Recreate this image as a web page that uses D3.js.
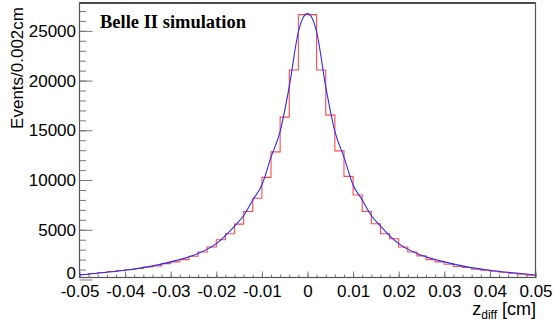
<!doctype html>
<html lang="en">
<head>
  <meta charset="utf-8">
  <title>z_diff distribution</title>
  <style>
    body { margin: 0; background: #fff; }
    text { font-family: "Liberation Sans", Arial, sans-serif; }
  </style>
</head>
<body>
  <script src="https://cdn.jsdelivr.net/npm/d3@7"></script>
  <script>
    // histogram: 50 bins of 0.002 cm from -0.05 to 0.05
    var binEdges = d3.range(51).map(function(i) { return +(-0.05 + i * 0.002).toFixed(3) })
    var binCounts = [
      500, 600, 700, 800, 900, 1000, 1100, 1250, 1370, 1600,
      1770, 2000, 2330, 2770, 3270, 4000, 4600, 5570, 6830, 8170,
      10270, 12830, 16330, 21070, 26630, 26630, 21070, 16530, 12930, 10370,
      8500, 6830, 5600, 4600, 4100, 3270, 2770, 2370, 2000, 1770,
      1530, 1300, 1200, 1030, 930, 830, 730, 630, 530, 430
    ]
    // fitted curve, points
    var fitX = [-0.05, -0.045, -0.04, -0.035, -0.03, -0.025, -0.02, -0.016, -0.014, -0.012,
      -0.01, -0.008, -0.006, -0.004, -0.002, -0.001, 0,
      0.001, 0.002, 0.004, 0.006, 0.008, 0.01, 0.012, 0.014, 0.016,
      0.02, 0.025, 0.03, 0.035, 0.04, 0.045, 0.05]
    var fitY = [450, 670, 930, 1270, 1770, 2430, 3600, 5370, 6430, 8000,
      9500, 12300, 14900, 19400, 24900, 26300, 26730,
      26300, 24900, 19400, 14900, 12300, 9500, 8000, 6430, 5370,
      3600, 2430, 1770, 1270, 930, 670, 450]
    var xTicks = [-0.05, -0.04, -0.03, -0.02, -0.01, 0, 0.01, 0.02, 0.03, 0.04, 0.05]
    var yTicks = [0, 5000, 10000, 15000, 20000, 25000]

    var W = 553, H = 322
    var plotL = 79.5, plotR = 535.5, plotT = 3, plotB = 277.5

    var svg = d3.select('body').append('svg')
      .attr('width', W)
      .attr('height', H)

    var x = d3.scaleLinear().domain([-0.05, 0.05]).range([plotL, plotR])
    var y = d3.scaleLinear().domain([200, 27800]).range([plotB, plotT])

    // minor ticks
    svg.append('g')
      .attr('transform', 'translate(0,' + plotB + ')')
      .call(d3.axisBottom(x).tickValues(binEdges).tickSizeInner(-3).tickSizeOuter(0).tickFormat(''))
    svg.append('g')
      .attr('transform', 'translate(' + plotL + ',0)')
      .call(d3.axisLeft(y).tickValues(d3.range(1000, 28000, 1000)).tickSizeInner(-6.5).tickSizeOuter(0).tickFormat(''))

    // major ticks + labels
    var xAxis = svg.append('g')
      .attr('class', 'x axis')
      .attr('transform', 'translate(0,' + plotB + ')')
      .call(d3.axisBottom(x).tickValues(xTicks).tickSizeInner(-6).tickSizeOuter(0).tickPadding(7)
        .tickFormat(function(d) { return d === 0 ? '0' : d3.format('.2f')(d).replace('\u2212', '-') }))
    var yAxis = svg.append('g')
      .attr('class', 'y axis')
      .attr('transform', 'translate(' + plotL + ',0)')
      .call(d3.axisLeft(y).tickValues(yTicks).tickSizeInner(-13).tickSizeOuter(0).tickPadding(3.5)
        .tickFormat(d3.format('d')))

    svg.selectAll('.axis text')
      .style('font-family', '"Liberation Sans", Arial, sans-serif')
      .style('font-size', '17px')
      .attr('fill', '#000')
    svg.selectAll('.tick line').attr('stroke', '#777')
    svg.selectAll('.domain').attr('stroke', 'none')
    yAxis.selectAll('.tick')
      .filter(function(d) { return d === 0 })
      .select('text').attr('y', -6)

    // histogram outline
    var stepPts = []
    binCounts.forEach(function(c, i) {
      stepPts.push([binEdges[i], c])
      stepPts.push([binEdges[i + 1], c])
    })
    svg.append('path')
      .datum(stepPts)
      .attr('fill', 'none')
      .attr('stroke', '#ff2a2a')
      .attr('stroke-opacity', 0.85)
      .attr('stroke-width', 1.1)
      .attr('d', d3.line()
        .x(function(d) { return x(d[0]) })
        .y(function(d) { return y(d[1]) }))

    // fit curve
    svg.append('path')
      .datum(fitX.map(function(v, i) { return [v, fitY[i]] }))
      .attr('fill', 'none')
      .attr('stroke', '#2a2aff')
      .attr('stroke-width', 1.1)
      .attr('d', d3.line()
        .x(function(d) { return x(d[0]) })
        .y(function(d) { return y(d[1]) })
        .curve(d3.curveMonotoneX))

    // frame
    svg.append('rect')
      .attr('x', plotL).attr('y', plotT)
      .attr('width', plotR - plotL).attr('height', plotB - plotT)
      .attr('fill', 'none')
      .attr('stroke', '#555')
      .attr('stroke-width', 1.2)
    svg.append('line')
      .attr('x1', plotL).attr('x2', plotR)
      .attr('y1', plotT).attr('y2', plotT)
      .attr('stroke', '#333')
      .attr('stroke-width', 1.6)

    // titles
    svg.append('text')
      .attr('transform', 'translate(23,7) rotate(-90)')
      .attr('text-anchor', 'end')
      .style('font-size', '17px')
      .text('Events/0.002cm')

    var xt = svg.append('text')
      .attr('x', 536)
      .attr('y', 315)
      .attr('text-anchor', 'end')
      .style('font-size', '18px')
    xt.append('tspan').text('z')
    xt.append('tspan').attr('dy', 4).style('font-size', '12px').text('diff')
    xt.append('tspan').attr('dy', -4).text(' [cm]')

    svg.append('text')
      .attr('x', 100)
      .attr('y', 27.5)
      .style('font-family', '"Liberation Serif", "Times New Roman", serif')
      .style('font-weight', 'bold')
      .style('font-size', '18.5px')
      .text('Belle II simulation')
  </script>
</body>
</html>
